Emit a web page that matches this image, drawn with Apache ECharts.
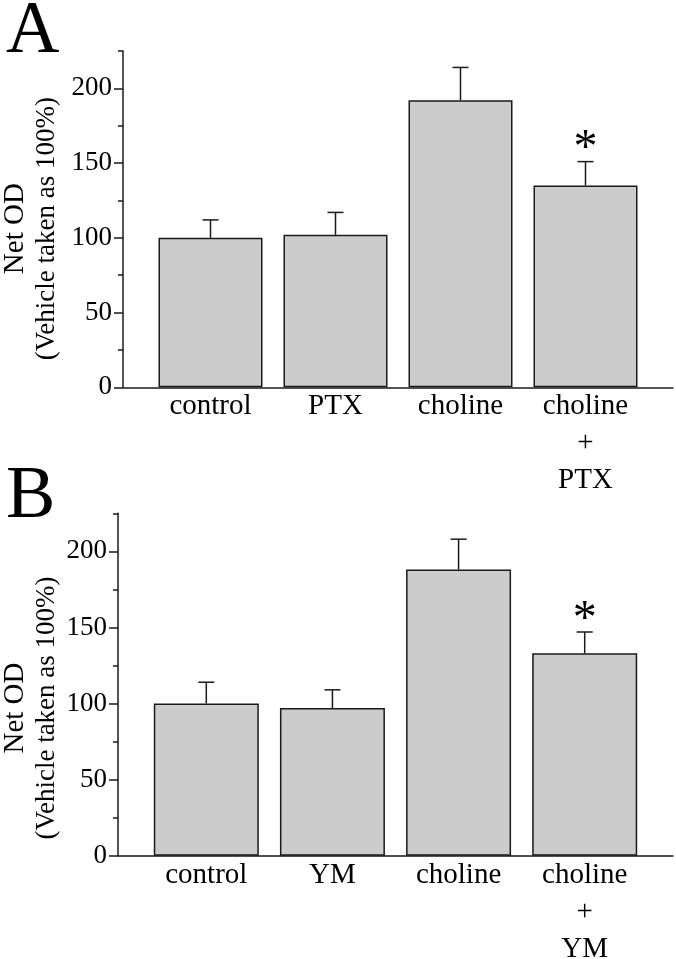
<!DOCTYPE html>
<html>
<head>
<meta charset="utf-8">
<script src="https://cdn.jsdelivr.net/npm/echarts@6/dist/echarts.min.js"></script>
<style>
html,body{margin:0;padding:0;background:#fff;}
#chart{width:676px;height:959px;}
</style>
</head>
<body>
<div id="chart"></div>
<script>
// ---- data ----
const positions = [1, 2, 3, 4];
const categoriesA = ['control', 'PTX', 'choline', 'choline\n+\nPTX'];
const meanA = [100, 102, 192, 135];
const upperA = [112, 117, 214, 151];
const sigA = ['', '', '', '*'];

const categoriesB = ['control', 'YM', 'choline', 'choline\n+\nYM'];
const meanB = [100, 97, 188, 133];
const upperB = [114, 109, 208, 147];
const sigB = ['', '', '', '*'];

const yMajorTicks = [0, 50, 100, 150, 200];
const yMinorTicks = [25, 75, 125, 175, 225];
const yMax = 225;
const yTitleLine1 = 'Net OD';
const yTitleLine2 = '(Vehicle taken as 100%)';
const panelLetters = ['A', 'B'];

// ---- style ----
const FONT = '"Liberation Serif", "Times New Roman", serif';
const INK = '#1a1a1a';

function xAxisFor(gridIndex, cats) {
  return {
    type: 'value', gridIndex: gridIndex, min: 0.3, max: 4.7,
    splitLine: {show: false},
    axisLine: {show: true, onZero: false, lineStyle: {color: INK, width: 1.5}},
    axisTick: {show: false},
    axisLabel: {
      show: true, customValues: positions, margin: 1,
      color: '#000', fontFamily: FONT, fontSize: 29, lineHeight: 37,
      formatter: function (v) { return cats[Math.round(v) - 1] || ''; }
    }
  };
}
function yMainFor(gridIndex, padRight, gap) {
  return {
    type: 'value', gridIndex: gridIndex, min: 0, max: yMax,
    splitLine: {show: false},
    axisLine: {show: true, lineStyle: {color: INK, width: 1.5}},
    axisTick: {show: true, customValues: yMajorTicks, length: 9, lineStyle: {color: INK, width: 1.5}},
    axisLabel: {show: true, customValues: yMajorTicks, margin: 11, color: '#000', fontFamily: FONT, fontSize: 27},
    name: '{a|' + yTitleLine1 + '}\n{b|' + yTitleLine2 + '}', nameLocation: 'middle', nameGap: gap,
    nameMoveOverlap: false,
    nameTextStyle: {
      color: '#000', fontFamily: FONT, fontSize: 27, lineHeight: 32, padding: [0, padRight, 0, 0],
      rich: {
        a: {fontFamily: FONT, fontSize: 29, lineHeight: 32, color: '#000'},
        b: {fontFamily: FONT, fontSize: 27, lineHeight: 32, color: '#000'}
      }
    }
  };
}
function yMinorFor(gridIndex) {
  return {
    type: 'value', gridIndex: gridIndex, min: 0, max: yMax, position: 'left',
    splitLine: {show: false},
    axisLine: {show: false},
    axisTick: {show: true, customValues: yMinorTicks, length: 5, lineStyle: {color: INK, width: 1.5}},
    axisLabel: {show: false}
  };
}
function barSeries(xi, yi, means, w) {
  return {
    type: 'bar', xAxisIndex: xi, yAxisIndex: yi, barWidth: w,
    data: positions.map(function (p, i) { return [p, means[i]]; }),
    itemStyle: {color: '#cccccc', borderColor: INK, borderWidth: 1.5},
    silent: true, z: 2
  };
}
function errSeries(xi, yi, means, uppers, sig) {
  return {
    type: 'custom', xAxisIndex: xi, yAxisIndex: yi, z: 3, silent: true,
    data: positions.map(function (p, i) { return [p, means[i], uppers[i], i]; }),
    renderItem: function (params, api) {
      const x = api.value(0), m = api.value(1), u = api.value(2), idx = api.value(3);
      const p0 = api.coord([x, m]);
      const p1 = api.coord([x, u]);
      const half = 8;
      const st = {stroke: INK, lineWidth: 1.5};
      const children = [
        {type: 'line', shape: {x1: p0[0], y1: p0[1], x2: p1[0], y2: p1[1]}, style: st},
        {type: 'line', shape: {x1: p1[0] - half, y1: p1[1], x2: p1[0] + half, y2: p1[1]}, style: st}
      ];
      if (sig[idx]) {
        children.push({
          type: 'text',
          style: {text: sig[idx], x: p1[0], y: p1[1] - 12, align: 'center', verticalAlign: 'middle',
                  fontFamily: FONT, fontSize: 48, fill: '#000'}
        });
      }
      return {type: 'group', children: children};
    }
  };
}

const chart = echarts.init(document.getElementById('chart'), null, {renderer: 'canvas'});
chart.setOption({
  backgroundColor: '#ffffff',
  animation: false,
  title: [
    {text: panelLetters[0], left: 1, top: -9, textStyle: {fontFamily: FONT, fontSize: 74, fontWeight: 'normal', color: '#000'}},
    {text: panelLetters[1], left: 1, top: 456, textStyle: {fontFamily: FONT, fontSize: 74, fontWeight: 'normal', color: '#000'}}
  ],
  grid: [
    {left: 123, right: 3, top: 51, height: 336.3, containLabel: false, outerBoundsMode: 'none'},
    {left: 118, right: 3, top: 513.3, height: 342.4, containLabel: false, outerBoundsMode: 'none'}
  ],
  xAxis: [xAxisFor(0, categoriesA), xAxisFor(1, categoriesB)],
  yAxis: [yMainFor(0, 19, 60), yMinorFor(0), yMainFor(1, 47, 55), yMinorFor(1)],
  series: [
    barSeries(0, 0, meanA, 104),
    errSeries(0, 0, meanA, upperA, sigA),
    barSeries(1, 2, meanB, 105),
    errSeries(1, 2, meanB, upperB, sigB)
  ]
});
</script>
</body>
</html>
